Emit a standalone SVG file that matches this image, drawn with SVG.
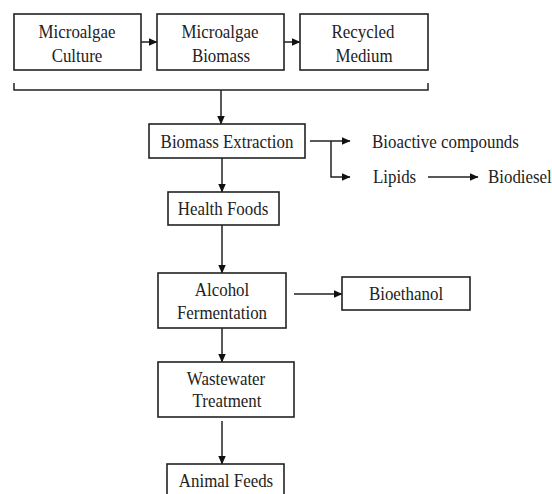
<svg xmlns="http://www.w3.org/2000/svg" width="552" height="494" viewBox="0 0 552 494">
<style>
.box{fill:#fff;stroke:#222;stroke-width:1.6}
.ln{fill:none;stroke:#222;stroke-width:1.5}
.ar{marker-end:url(#ah)}
.t{font-family:'Liberation Serif','Times New Roman',serif;font-size:19px;fill:#222}
.c{text-anchor:middle}
</style>
<defs>
<marker id="ah" markerUnits="userSpaceOnUse" markerWidth="9" markerHeight="8" refX="8.5" refY="4" orient="auto">
<path d="M0,0 L9,4 L0,8 z" fill="#111"/>
</marker>
</defs>
<rect width="552" height="494" fill="#fff"/>
<g id="connectors">
<path class="ln ar" d="M141,42 H157"/>
<path class="ln ar" d="M284,42 H300"/>
<path class="ln" d="M14,83 V90 H428 V83"/>
<path class="ln ar" d="M221,90 V124"/>
<path class="ln ar" d="M222,158 V192"/>
<path class="ln ar" d="M310,141 H350"/>
<path class="ln ar" d="M331,141 V177 H350"/>
<path class="ln ar" d="M428,177 H478"/>
<path class="ln ar" d="M222,225 V273"/>
<path class="ln ar" d="M294,294 H342"/>
<path class="ln ar" d="M222,328 V362"/>
<path class="ln ar" d="M222,421 V464"/>
</g>
<g id="microalgae-culture">
<rect class="box" x="14" y="14" width="127" height="56"/>
<text class="t c" transform="translate(77,38) scale(0.89,1)">Microalgae</text>
<text class="t c" transform="translate(77,62) scale(0.89,1)">Culture</text>
</g>
<g id="microalgae-biomass">
<rect class="box" x="157" y="14" width="127" height="56"/>
<text class="t c" transform="translate(220,38) scale(0.89,1)">Microalgae</text>
<text class="t c" transform="translate(221,62) scale(0.89,1)">Biomass</text>
</g>
<g id="recycled-medium">
<rect class="box" x="300" y="14" width="128" height="56"/>
<text class="t c" transform="translate(363,38) scale(0.89,1)">Recycled</text>
<text class="t c" transform="translate(364,62) scale(0.89,1)">Medium</text>
</g>
<g id="biomass-extraction">
<rect class="box" x="149" y="124" width="156" height="34"/>
<text class="t c" transform="translate(227,148) scale(0.89,1)">Biomass Extraction</text>
</g>
<g id="bioactive-compounds">
<text class="t" transform="translate(372,148) scale(0.89,1)">Bioactive compounds</text>
</g>
<g id="lipids">
<text class="t" transform="translate(373,183) scale(0.89,1)">Lipids</text>
</g>
<g id="biodiesel">
<text class="t" transform="translate(488,183) scale(0.89,1)">Biodiesel</text>
</g>
<g id="health-foods">
<rect class="box" x="168" y="192" width="111" height="33"/>
<text class="t c" transform="translate(223,215) scale(0.89,1)">Health Foods</text>
</g>
<g id="alcohol-fermentation">
<rect class="box" x="158" y="273" width="128" height="55"/>
<text class="t c" transform="translate(222,296) scale(0.89,1)">Alcohol</text>
<text class="t c" transform="translate(222,319) scale(0.89,1)">Fermentation</text>
</g>
<g id="bioethanol">
<rect class="box" x="342" y="277" width="128" height="33"/>
<text class="t c" transform="translate(406,300) scale(0.89,1)">Bioethanol</text>
</g>
<g id="wastewater-treatment">
<rect class="box" x="158" y="362" width="136" height="55"/>
<text class="t c" transform="translate(226,385) scale(0.89,1)">Wastewater</text>
<text class="t c" transform="translate(227,407) scale(0.89,1)">Treatment</text>
</g>
<g id="animal-feeds">
<rect class="box" x="167" y="464" width="117" height="40"/>
<text class="t c" transform="translate(226,487) scale(0.89,1)">Animal Feeds</text>
</g>
</svg>
